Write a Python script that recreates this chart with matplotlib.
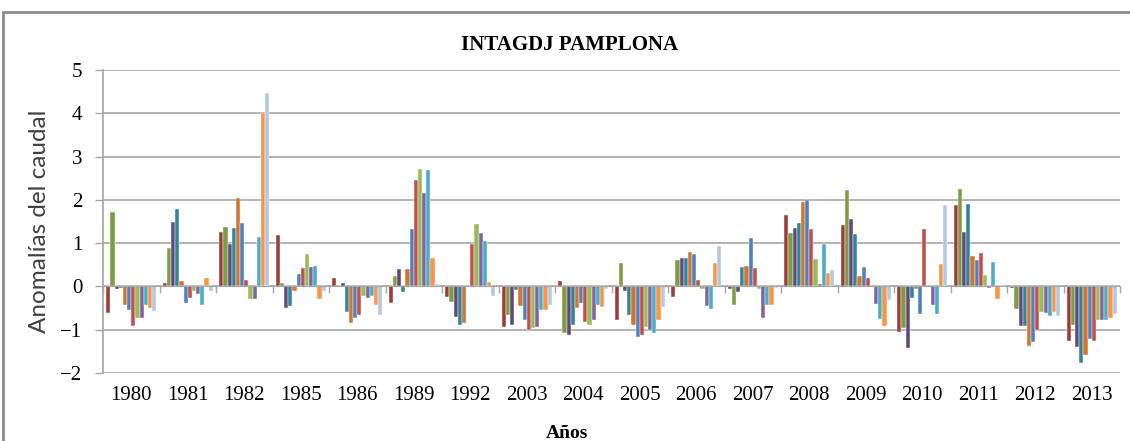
import numpy as np
import matplotlib
matplotlib.use("Agg")
import matplotlib.pyplot as plt
from matplotlib.patches import Rectangle

# años hidrológicos y anomalías mensuales del caudal (12 series)
years = ["1980", "1981", "1982", "1985", "1986", "1989", "1992", "2003", "2004",
         "2005", "2006", "2007", "2008", "2009", "2010", "2011", "2012", "2013"]

m01 = [-0.62, 0.09, 1.26, 1.18, 0.19, -0.39, -0.25, -0.94, 0.13, -0.77, -0.25, -0.05, 1.65, 1.41, -1.05, 1.88, -0.03, -1.25]
m02 = [1.72, 0.88, 1.38, 0.08, 0.03, 0.25, -0.35, -0.65, -1.08, 0.54, 0.60, -0.42, 1.24, 2.22, -0.96, 2.25, -0.52, -0.88]
m03 = [-0.06, 1.49, 0.99, -0.50, 0.08, 0.40, -0.71, -0.88, -1.12, -0.10, 0.65, -0.13, 1.35, 1.55, -1.42, 1.26, -0.91, -1.40]
m04 = [-0.04, 1.78, 1.35, -0.45, -0.59, -0.13, -0.88, -0.09, -0.88, -0.65, 0.65, 0.45, 1.46, 1.21, -0.27, 1.90, -0.91, -1.77]
m05 = [-0.42, 0.13, 2.05, -0.10, -0.85, 0.40, -0.85, -0.45, -0.50, -0.88, 0.79, 0.48, 1.96, 0.25, -0.06, 0.71, -1.37, -1.58]
m06 = [-0.55, -0.38, 1.46, 0.28, -0.73, 1.32, 0.04, -0.77, -0.38, -1.17, 0.75, 1.12, 2.00, 0.45, -0.64, 0.60, -1.28, -1.22]
m07 = [-0.91, -0.27, 0.16, 0.42, -0.65, 2.45, 0.98, -1.00, -0.82, -1.12, 0.16, 0.42, 1.32, 0.19, 1.32, 0.77, -1.00, -1.25]
m08 = [-0.72, -0.10, -0.30, 0.75, -0.22, 2.72, 1.44, -0.96, -0.90, -0.94, -0.05, -0.07, 0.63, 0.00, 0.00, 0.27, -0.58, -0.78]
m09 = [-0.73, -0.18, -0.30, 0.45, -0.27, 2.15, 1.23, -0.94, -0.77, -1.00, -0.45, -0.73, 0.06, -0.41, -0.44, -0.04, -0.62, -0.78]
m10 = [-0.42, -0.42, 1.15, 0.48, -0.23, 2.68, 1.05, -0.54, -0.42, -1.08, -0.52, -0.42, 0.98, -0.75, -0.64, 0.56, -0.68, -0.78]
m11 = [-0.50, 0.19, 4.00, -0.30, -0.42, 0.65, 0.10, -0.54, -0.48, -0.77, 0.54, -0.42, 0.31, -0.91, 0.51, -0.29, -0.58, -0.73]
m12 = [-0.56, -0.10, 4.48, -0.10, -0.65, 0.06, -0.21, -0.42, -0.05, -0.48, 0.94, -0.03, 0.37, -0.32, 1.88, 0.03, -0.68, -0.64]

series = [m01, m02, m03, m04, m05, m06, m07, m08, m09, m10, m11, m12]
colores = ["#9B3D3A", "#7F9C45", "#604A7B", "#31849B", "#D07630", "#4F81BD",
           "#C0504D", "#9BBB59", "#8064A2", "#4BACC6", "#F79646", "#B4C6E4"]

gris = "#A6A6A6"
serif = ["Liberation Serif", "DejaVu Serif"]

fig = plt.figure(figsize=(11.3, 4.41), dpi=100)
ax = fig.add_axes([103 / 1130, 1 - 373 / 441, 1017 / 1130, 303 / 441])

# marco del gráfico
fig.patches.append(Rectangle((3 / 1130, -0.1), 1.2, 1 - 12 / 441 + 0.1,
                             transform=fig.transFigure, fill=False,
                             edgecolor="#8C8C8C", linewidth=2))

n = len(series)
w = 1 / (n + 1.5)
x = np.arange(len(years)) + 0.5
for k, (vals, c) in enumerate(zip(series, colores)):
    ax.bar(x + (k - (n - 1) / 2) * w, vals, width=w, color=c,
           edgecolor="white", linewidth=0.3, zorder=3)

ax.set_xlim(0, len(years))
ax.set_ylim(-2, 5)
ax.set_yticks(range(-2, 6))
ax.yaxis.grid(True, color=gris, linewidth=1.2, zorder=0)
ax.set_axisbelow(True)

# eje de categorías en el cero, con marcas entre años
ax.spines["bottom"].set_position(("data", 0))
ax.spines["bottom"].set_color(gris)
ax.spines["bottom"].set_zorder(4)
ax.spines["left"].set_color(gris)
ax.spines["left"].set_linewidth(1.2)
ax.spines["top"].set_visible(False)
ax.spines["right"].set_visible(False)
ax.set_xticks(range(len(years) + 1))
ax.set_xticklabels([])
ax.tick_params(axis="x", direction="out", length=5, color=gris, width=1)
ax.tick_params(axis="y", direction="out", length=6, color=gris, width=1, pad=9)
for lab in ax.get_yticklabels():
    lab.set_family(serif)
    lab.set_fontsize(15)

for xi, yr in zip(x, years):
    ax.text(xi, -0.075, yr, transform=ax.get_xaxis_transform(),
            ha="center", va="center", family=serif, fontsize=15)

fig.text(570 / 1130, 1 - 45 / 441, "INTAGDJ PAMPLONA", ha="center", va="center",
         family=serif, fontsize=15, fontweight="bold")
fig.text(567 / 1130, 1 - 433 / 441, "Años", ha="center", va="center",
         family=serif, fontsize=14, fontweight="bold")
fig.text(40 / 1130, 1 - 221 / 441, "Anomalías del caudal", rotation=90,
         ha="center", va="center", family=["Lato", "DejaVu Sans"], fontsize=17.5,
         color="#404040")

fig.savefig("out.png", dpi=100)
